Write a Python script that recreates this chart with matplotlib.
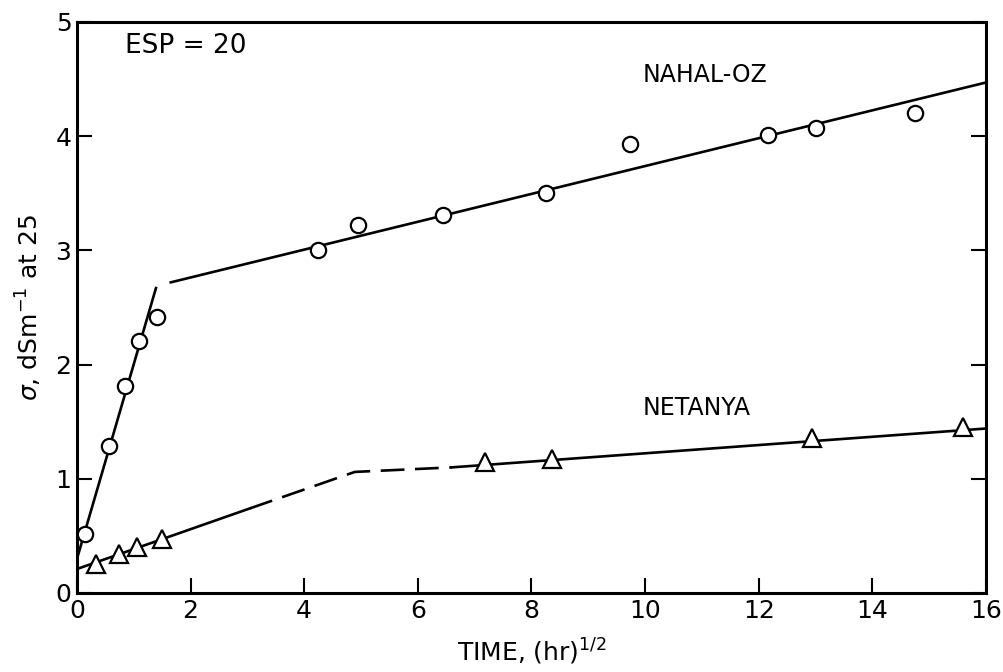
import numpy as np
import matplotlib
matplotlib.use('Agg')
import matplotlib.pyplot as plt

# measured points, sqrt(time) in hr^1/2 vs conductivity
nahal_x = [0.14, 0.56, 0.84, 1.10, 1.41, 4.24, 4.94, 6.45, 8.26, 9.74, 12.17, 13.01, 14.75]
nahal_y = [0.52, 1.29, 1.81, 2.21, 2.42, 3.00, 3.22, 3.31, 3.50, 3.93, 4.01, 4.07, 4.20]
netanya_x = [0.33, 0.74, 1.05, 1.49, 7.18, 8.36, 12.94, 15.60]
netanya_y = [0.25, 0.34, 0.40, 0.47, 1.15, 1.17, 1.36, 1.45]

# hand-fitted lines
nahal_fit1_x = [0.0, 1.39]
nahal_fit1_y = [0.30, 2.67]
nahal_fit2_x = [1.65, 16.0]
nahal_fit2_y = [2.72, 4.47]
net_fit1_x = [0.0, 3.04]
net_fit1_y = [0.21, 0.74]
net_dash_x = [3.04, 4.89, 6.6]
net_dash_y = [0.74, 1.06, 1.10]
net_fit2_x = [6.6, 16.0]
net_fit2_y = [1.10, 1.44]

xticks = [0, 2, 4, 6, 8, 10, 12, 14, 16]
yticks = [0, 1, 2, 3, 4, 5]

fig = plt.figure(figsize=(10.04, 6.72), dpi=100)
ax = fig.add_axes([0.0767, 0.1176, 0.9053, 0.8497])

lw = 1.9
ax.plot(nahal_fit1_x, nahal_fit1_y, color='k', lw=lw)
ax.plot(nahal_fit2_x, nahal_fit2_y, color='k', lw=lw)
ax.plot(net_fit1_x, net_fit1_y, color='k', lw=lw)
ax.plot(net_dash_x, net_dash_y, color='k', lw=lw, dashes=(9, 4))
ax.plot(net_fit2_x, net_fit2_y, color='k', lw=lw)

ax.plot(nahal_x, nahal_y, 'o', ms=11, mfc='white', mec='k', mew=1.6, zorder=3)
ax.plot(netanya_x, netanya_y, '^', ms=13, mfc='white', mec='k', mew=1.6, zorder=3)

ax.set_xlim(0, 16)
ax.set_ylim(0, 5)
ax.set_xticks(xticks)
ax.set_yticks(yticks)
ax.tick_params(direction='in', length=11, width=1.5, labelsize=18, right=True, pad=4)
for s in ax.spines.values():
    s.set_linewidth(2.2)

ax.set_xlabel(r'TIME, (hr)$^{1/2}$', fontsize=18, labelpad=10)
ax.set_ylabel(r'$\sigma$, dSm$^{-1}$ at 25', fontsize=18, labelpad=8)

ax.text(0.84, 4.79, 'ESP = 20', fontsize=19, va='center')
ax.text(9.95, 4.54, 'NAHAL-OZ', fontsize=17, va='center')
ax.text(9.95, 1.62, 'NETANYA', fontsize=17, va='center')

fig.savefig('out.png', dpi=100)
